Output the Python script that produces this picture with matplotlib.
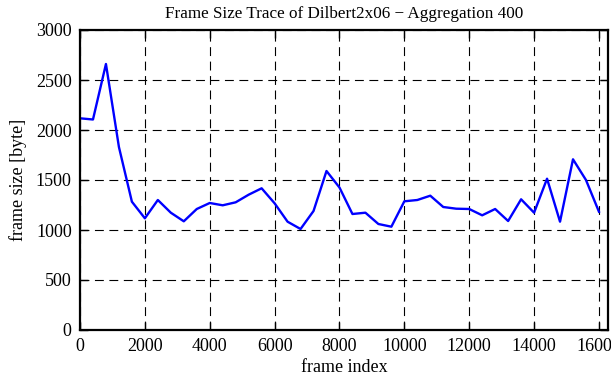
import matplotlib
matplotlib.use("Agg")
import matplotlib.pyplot as plt
import numpy as np

plt.rcParams['font.family'] = ['Liberation Serif', 'DejaVu Serif']

frame_index = list(range(0, 16001, 400))
frame_size = [2117, 2105, 2660, 1830, 1283, 1117, 1300, 1173, 1087, 1210,
              1270, 1247, 1277, 1353, 1417, 1267, 1083, 1010, 1190, 1590,
              1425, 1160, 1173, 1060, 1033, 1287, 1300, 1343, 1230, 1213,
              1210, 1147, 1210, 1090, 1307, 1173, 1513, 1083, 1707, 1500,
              1183]
xticks = list(range(0, 16001, 2000))
yticks = list(range(0, 3001, 500))

fig = plt.figure(figsize=(6.11, 3.80), dpi=100)
ax = fig.add_axes([80/611, 1-330/380, (607.7-80)/611, 300/380])
ax.plot(frame_index, frame_size, color='#0000ff', lw=1.7)
ax.set_xlim(0, 16270)
ax.set_ylim(0, 3000)
ax.set_xticks(xticks)
ax.set_yticks(yticks)
ax.grid(True, color='black', linestyle=(0, (8, 5)), linewidth=0.8)
ax.tick_params(direction='in', length=6, width=1, top=True, right=True,
               labelsize=13, pad=6)
for s in ax.spines.values():
    s.set_linewidth(1.6)
ax.set_xlabel('frame index', fontsize=13, labelpad=3)
ax.set_ylabel('frame size [byte]', fontsize=13, labelpad=6)
ax.set_title('Frame Size Trace of Dilbert2x06 \u2212 Aggregation 400', fontsize=12.3, pad=9)
fig.savefig('out.png', dpi=100)
